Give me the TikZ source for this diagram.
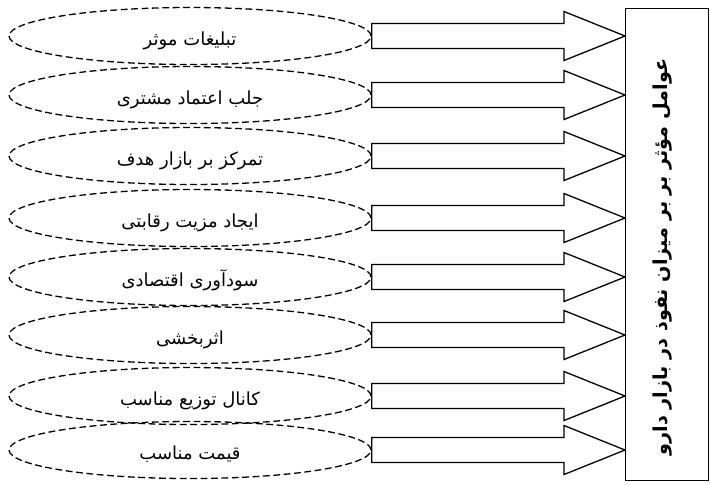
\documentclass[tikz,border=0pt]{standalone}
\usepackage{fontspec}
\newfontfamily\arabicfont[Script=Arabic]{DejaVu Sans}
\TeXXeTstate=1
\usetikzlibrary{calc,positioning,shapes.geometric}

\tikzset{
  factor/.style={draw, ellipse, dash pattern=on 3.4pt off 1.8pt, line width=0.65pt,
    minimum width=181pt, minimum height=28.5pt, inner sep=0pt,
    font=\arabicfont\fontsize{9}{11}\selectfont},
  blockarrow/.style={draw, line width=0.65pt, to path={
    let \p1=(\tikztostart), \p2=(\tikztotarget) in
    (\x1,\y1+6.25pt) -- (\x2-30.5pt,\y1+6.25pt) -- (\x2-30.5pt,\y1+12.25pt)
    -- (\x2,\y1) -- (\x2-30.5pt,\y1-12.25pt) -- (\x2-30.5pt,\y1-6.25pt)
    -- (\x1,\y1-6.25pt) -- cycle}}
}
\newcommand{\factortext}[1]{\raisebox{-4.5pt}[0pt][0pt]{\beginR #1\endR}}

\begin{document}
\begin{tikzpicture}[x=0.5pt, y=-0.5pt]
  \useasboundingbox (0,0) rectangle (710,484);

  \node[draw, line width=0.65pt, anchor=north west, minimum width=41.5pt, minimum height=236pt] (box) at (625,8) {};
  \node[rotate=90, font=\arabicfont\bfseries\fontsize{9.6}{12}\selectfont] (title) at (663,257)
    {\beginR عوامل مؤثر بر بر میزان نفوذ در بازار دارو\endR};

  \node[factor] (e1) at (190,36) {\factortext{تبلیغات موثر}};
  \node[factor] (e2) at (190,95) {\factortext{جلب اعتماد مشتری}};
  \node[factor] (e3) at (190,156) {\factortext{تمرکز بر بازار هدف}};
  \node[factor] (e4) at (190,218) {\factortext{ایجاد مزیت رقابتی}};
  \node[factor] (e5) at (190,277) {\factortext{سودآوری اقتصادی}};
  \node[factor] (e6) at (190,335) {\factortext{اثربخشی}};
  \node[factor] (e7) at (190,396) {\factortext{کانال توزیع مناسب}};
  \node[factor] (e8) at (190,450) {\factortext{قیمت مناسب}};

  \draw[blockarrow] (e1.east) to (e1.east -| box.west);
  \draw[blockarrow] (e2.east) to (e2.east -| box.west);
  \draw[blockarrow] (e3.east) to (e3.east -| box.west);
  \draw[blockarrow] (e4.east) to (e4.east -| box.west);
  \draw[blockarrow] (e5.east) to (e5.east -| box.west);
  \draw[blockarrow] (e6.east) to (e6.east -| box.west);
  \draw[blockarrow] (e7.east) to (e7.east -| box.west);
  \draw[blockarrow] (e8.east) to (e8.east -| box.west);

\end{tikzpicture}
\end{document}
